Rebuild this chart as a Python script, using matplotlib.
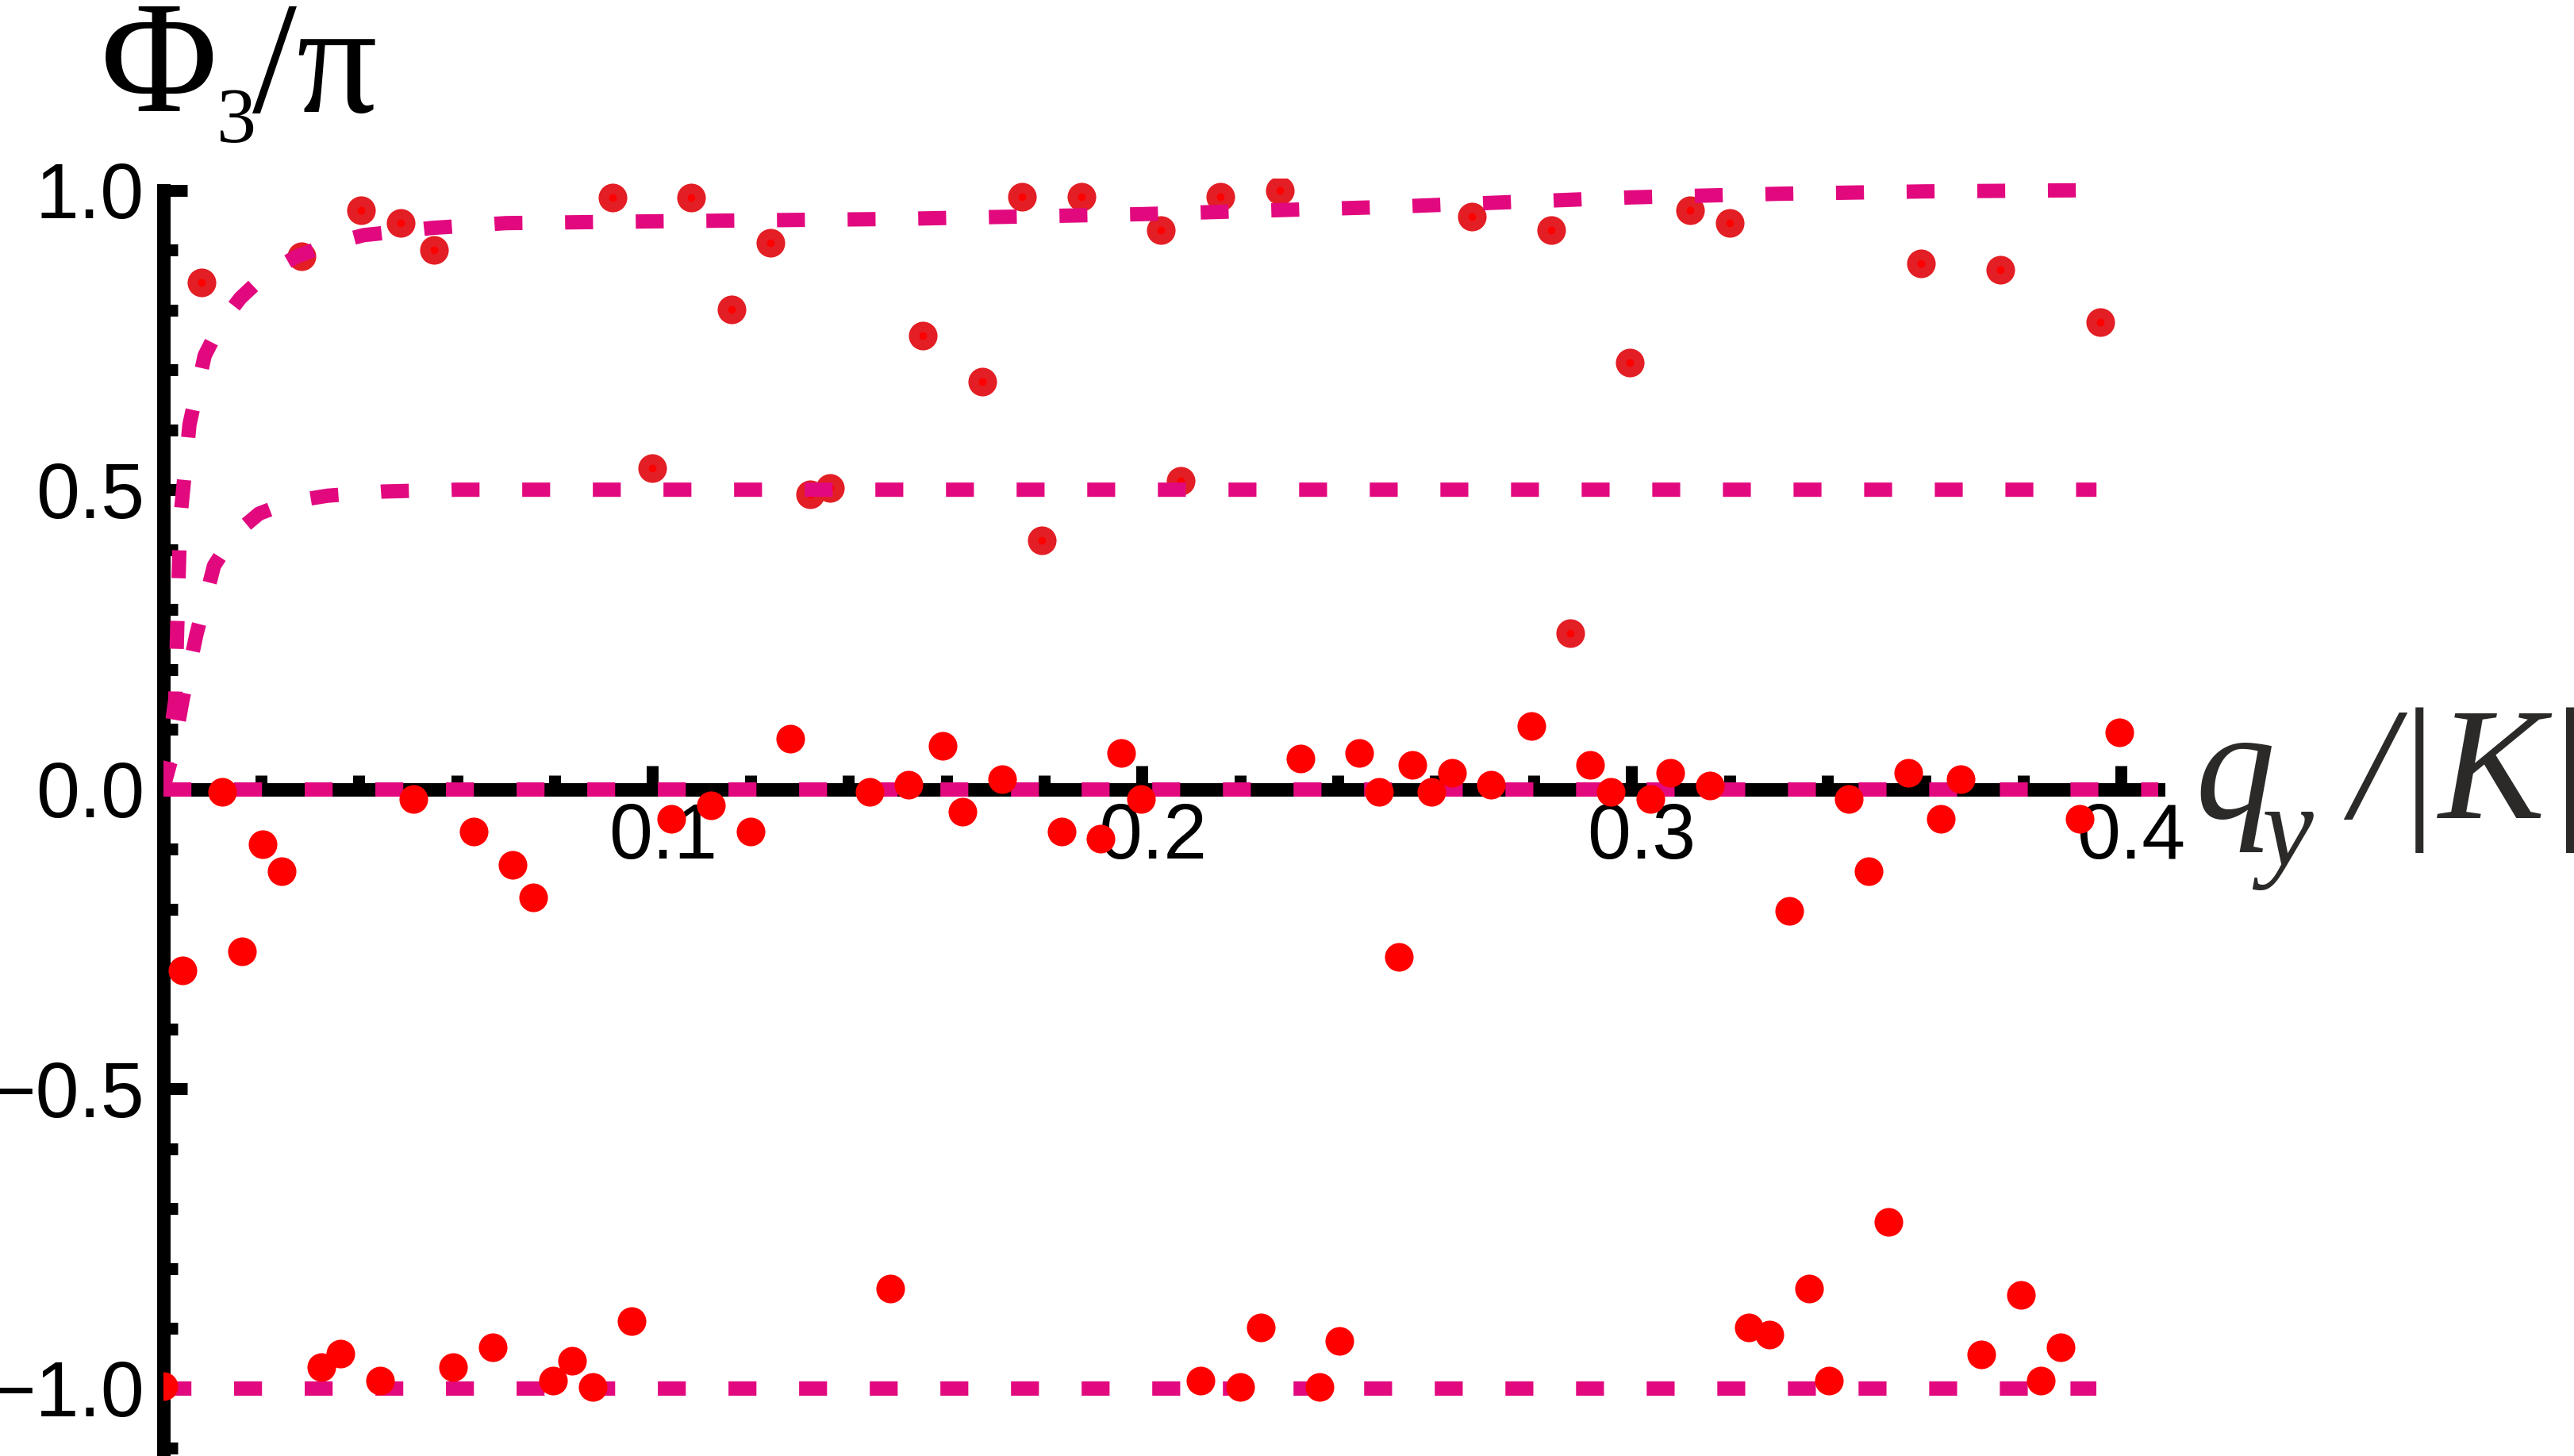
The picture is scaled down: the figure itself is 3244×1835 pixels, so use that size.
import numpy as np
import matplotlib
matplotlib.use('Agg')
import matplotlib.pyplot as plt
import matplotlib.transforms as mtransforms

# points with phase near +1 / +0.5 (ringed markers)
upper_x = [0.0079, 0.0283, 0.0405, 0.0485, 0.0554, 0.0918, 0.1079, 0.1161, 0.1241, 0.1552,
           0.1674, 0.1755, 0.1876, 0.2038, 0.2160, 0.2282, 0.2674, 0.2836, 0.2997, 0.3120,
           0.3201, 0.3592, 0.3753, 0.3958, 0.0999, 0.1322, 0.1362, 0.1795, 0.2079, 0.2875]
upper_y = [0.846, 0.890, 0.967, 0.945, 0.900, 0.988, 0.988, 0.801, 0.912, 0.757,
           0.680, 0.989, 0.989, 0.933, 0.989, 1.000, 0.956, 0.934, 0.712, 0.967,
           0.945, 0.878, 0.867, 0.780, 0.536, 0.492, 0.503, 0.415, 0.515, 0.260]

# points near 0 and -1
lower_x = [0.0000, 0.0039, 0.0120, 0.0161, 0.0203, 0.0242, 0.0323, 0.0363, 0.0444, 0.0512,
           0.0593, 0.0634, 0.0673, 0.0714, 0.0756, 0.0796, 0.0836, 0.0877, 0.0958, 0.1039,
           0.1120, 0.1201, 0.1282, 0.1444, 0.1485, 0.1523, 0.1593, 0.1633, 0.1715, 0.1836,
           0.1916, 0.1957, 0.1998, 0.2120, 0.2200, 0.2242, 0.2323, 0.2363, 0.2403, 0.2443,
           0.2484, 0.2525, 0.2552, 0.2592, 0.2633, 0.2713, 0.2795, 0.2916, 0.2957, 0.3038,
           0.3079, 0.3160, 0.3240, 0.3281, 0.3322, 0.3363, 0.3403, 0.3444, 0.3484, 0.3525,
           0.3565, 0.3632, 0.3673, 0.3715, 0.3795, 0.3836, 0.3876, 0.3916, 0.3997]
lower_y = [-0.997, -0.302, -0.005, -0.270, -0.092, -0.137, -0.965, -0.942, -0.987, -0.016,
           -0.965, -0.071, -0.932, -0.126, -0.181, -0.987, -0.954, -0.998, -0.888, -0.049,
           -0.027, -0.071, 0.084, -0.005, -0.833, 0.007, 0.073, -0.038, 0.017, -0.071,
           -0.082, 0.061, -0.016, -0.987, -0.998, -0.899, 0.051, -0.998, -0.921, 0.061,
           -0.005, -0.280, 0.040, -0.005, 0.028, 0.007, 0.106, 0.040, -0.005, -0.016,
           0.028, 0.006, -0.899, -0.910, -0.203, -0.833, -0.987, -0.016, -0.137, -0.722,
           0.028, -0.049, 0.017, -0.943, -0.844, -0.987, -0.932, -0.049, 0.095]

# dashed guide curves
top_curve_x = [0.0, 0.0025, 0.0030, 0.0035, 0.0054, 0.0085, 0.0120, 0.0158, 0.0210, 0.0272,
               0.0340, 0.0410, 0.0550, 0.0700, 0.1000, 0.1500, 0.2000, 0.2500, 0.3000, 0.3300,
               0.3600, 0.3950]
top_curve_y = [0.0, 0.15, 0.30, 0.45, 0.609, 0.724, 0.78, 0.82, 0.86, 0.889,
               0.91, 0.925, 0.937, 0.945, 0.948, 0.952, 0.96, 0.972, 0.988, 0.994,
               0.998, 1.0]
half_curve_x = [0.0, 0.0020, 0.0040, 0.0068, 0.0104, 0.0145, 0.0196, 0.0260, 0.0336, 0.0450,
                0.0600, 0.1000, 0.2000, 0.3000, 0.3950]
half_curve_y = [0.0, 0.06, 0.15, 0.258, 0.373, 0.425, 0.46, 0.48, 0.49, 0.497,
                0.5, 0.5, 0.5, 0.5, 0.5]
zero_curve_x = [0.0, 0.42]
zero_curve_y = [0.0, 0.0]
minus_curve_x = [0.0, 0.395]
minus_curve_y = [-1.0, -1.0]

xticks = [0.1, 0.2, 0.3, 0.4]
xticklabels = ['0.1', '0.2', '0.3', '0.4']
yticks = [-1.0, -0.5, 0.0, 0.5, 1.0]
yticklabels = ['\u22121.0', '\u22120.5', '0.0', '0.5', '1.0']

pink = '#e2097f'

fig = plt.figure(figsize=(32.44, 18.35), dpi=100)
ax = fig.add_axes([0.06335, 0.0, 0.7751, 0.8772])
ax.set_xlim(0, 0.4076)
ax.set_ylim(-1.113, 1.019)

# axes through the origin
for s in ['top', 'right']:
    ax.spines[s].set_visible(False)
ax.spines['bottom'].set_position(('data', 0))
ax.spines['left'].set_position(('data', 0))
for s in ['bottom', 'left']:
    ax.spines[s].set_linewidth(12.2)
ax.spines['left'].set_bounds(-1.2, 1.0)
ax.spines['left'].set_capstyle('projecting')

ax.set_xticks(xticks)
ax.set_xticklabels(xticklabels)
ax.set_xticks(np.arange(0.02, 0.401, 0.02), minor=True)
ax.set_yticks(yticks)
ax.set_yticklabels(yticklabels)
ax.set_yticks(np.arange(-1.1, 1.01, 0.1), minor=True)
ax.tick_params(which='major', direction='in', width=10.8, length=21.5, labelsize=71)
ax.tick_params(which='minor', direction='in', width=10.8, length=13)
ax.tick_params(axis='x', which='major', pad=12)
ax.tick_params(axis='y', which='major', pad=17)
for lbl in ax.get_xticklabels() + ax.get_yticklabels():
    lbl.set_family('Liberation Sans')
offset = mtransforms.ScaledTranslation(0.13, 0, fig.dpi_scale_trans)
for lbl in ax.get_xticklabels():
    lbl.set_transform(lbl.get_transform() + offset)

# ringed points
ax.plot(upper_x, upper_y, 'o', ms=26, color='#e31e24', mew=0, zorder=3)
ax.plot(upper_x, upper_y, 'o', ms=7, color='#ff0000', mew=0, zorder=3.1)

# dashed curves
for cx, cy in [(top_curve_x, top_curve_y), (half_curve_x, half_curve_y),
               (zero_curve_x, zero_curve_y), (minus_curve_x, minus_curve_y)]:
    ax.plot(cx, cy, color=pink, lw=13, dashes=(1.95, 2.98), dash_capstyle='butt', zorder=4)

ax.plot(lower_x, lower_y, 'o', ms=26, color='#ff0000', mew=0, zorder=5)

# y label: Phi_3 / pi
fig.text(127 / 3244, 1 - 140 / 1835, '\u03a6', fontsize=145, family='Liberation Serif',
         ha='left', va='baseline')
fig.text(273 / 3244, 1 - 179 / 1835, '3', fontsize=72, family='Liberation Serif',
         ha='left', va='baseline')
fig.text(318 / 3244, 1 - 141 / 1835, '/\u03c0', fontsize=145, family='Liberation Serif',
         ha='left', va='baseline')

# x label: q_y / |K|
lc = '#2b2a29'
fig.text(2766 / 3244, 1 - 1031 / 1835, 'q', fontsize=145, family='Liberation Serif',
         style='italic', color=lc, ha='left', va='baseline')
fig.text(2850 / 3244, 1 - 1091 / 1835, 'y', fontsize=105, family='Liberation Serif',
         style='italic', color=lc, ha='left', va='baseline')
fig.text(2962 / 3244, 1 - 1031 / 1835, '/|K|', fontsize=145, family='Liberation Serif',
         style='italic', color=lc, ha='left', va='baseline')

fig.savefig('out.png', dpi=100)
